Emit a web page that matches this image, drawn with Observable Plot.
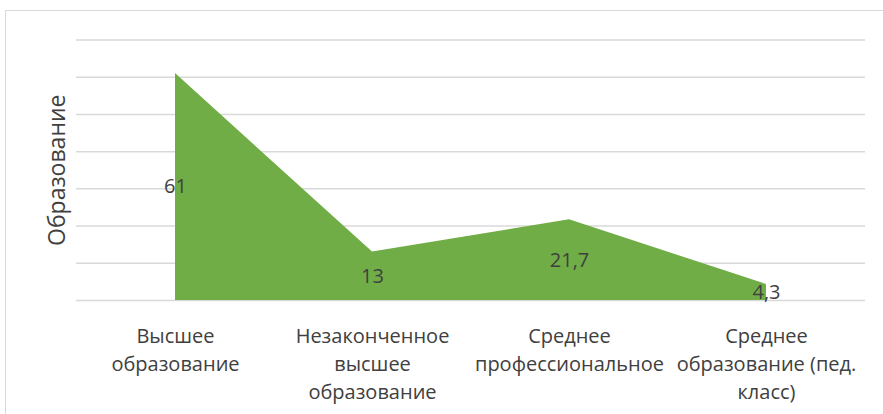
<!DOCTYPE html>
<html>
<head>
<meta charset="utf-8">
<script src="https://cdn.jsdelivr.net/npm/d3@7"></script>
<script src="https://cdn.jsdelivr.net/npm/@observablehq/plot@0.6"></script>
<style>
  html, body { margin: 0; padding: 0; background: #fff; }
  #wrap { position: relative; width: 883px; height: 414px; overflow: hidden; }
  #border { position: absolute; left: 5px; top: 10px; width: 900px; height: 420px; border-left: 1.5px solid #d9d9d9; border-top: 1.5px solid #d9d9d9; box-sizing: border-box; }
  #chart { position: absolute; left: 0; top: 0; }
</style>
</head>
<body>
<div id="wrap"><div id="border"></div><div id="chart"></div></div>
<script>
const categories = ["Высшее образование", "Незаконченное высшее образование", "Среднее профессиональное", "Среднее образование (пед. класс)"];
const tickLabels = ["Высшее\nобразование", "Незаконченное\nвысшее\nобразование", "Среднее\nпрофессиональное", "Среднее\nобразование (пед.\nкласс)"];
const values = [61, 13, 21.7, 4.3];
const yTicks = [0, 10, 20, 30, 40, 50, 60, 70];
const yTitle = "Образование";

const data = categories.map((c, i) => ({cat: c, value: values[i], label: tickLabels[i]}));
const fmt = v => String(v).replace(".", ",");
const font = "'Open Sans', 'Noto Sans', sans-serif";

const plot = Plot.plot({
  width: 883,
  height: 414,
  marginLeft: 76,
  marginRight: 18,
  marginTop: 39.5,
  marginBottom: 114,
  style: {fontFamily: font, background: "transparent"},
  x: {type: "point", domain: categories, padding: 0.5, axis: null},
  y: {domain: [0, 70], axis: null},
  marks: [
    Plot.gridY(yTicks, {stroke: "#d9d9d9", strokeOpacity: 1, strokeWidth: 1.5}),
    Plot.areaY(data, {x: "cat", y: "value", fill: "#70AD47"}),
    Plot.text(data, {x: "cat", y: d => d.value / 2, text: d => fmt(d.value), fontSize: 20, fill: "#404040"}),
    Plot.text(data, {x: "cat", y: 0, text: "label", dy: 23, lineAnchor: "top", lineHeight: 1.4, fontSize: 20, fill: "#404040"}),
    Plot.text([yTitle], {frameAnchor: "left", dx: -19, rotate: -90, textAnchor: "middle", fontSize: 23, fill: "#404040"})
  ]
});
document.getElementById("chart").appendChild(plot);
</script>
</body>
</html>
